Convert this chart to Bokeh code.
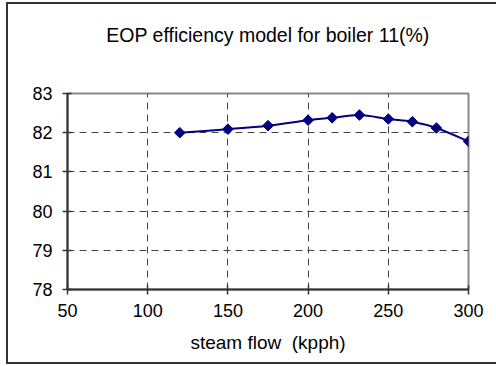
from bokeh.plotting import figure
from bokeh.models import FixedTicker, Range1d, LinearAxis, InlineStyleSheet
from bokeh.embed import file_html
from bokeh.resources import INLINE
import math

# data
steam_flow = [120, 150, 175, 200, 215, 232, 250, 265, 280, 300]
efficiency = [82.00, 82.09, 82.18, 82.32, 82.38, 82.45, 82.35, 82.28, 82.12, 81.78]
x_ticks = [50, 100, 150, 200, 250, 300]
y_ticks = [78, 79, 80, 81, 82, 83]
title_text = "EOP efficiency model for boiler 11(%)"
x_label = "steam flow\u00a0 (kpph)"

FONT = "Liberation Sans"
NAVY = "#000080"
EDGE = "#333333"

p = figure(width=496, height=364, output_backend="svg", toolbar_location=None,
           x_range=Range1d(50, 300), y_range=Range1d(78, 83),
           min_border_left=67, min_border_right=28, min_border_top=93,
           min_border_bottom=75, background_fill_color="white",
           border_fill_color=None)
# outer chart border: left, top and bottom edges (right edge is off-window)
border_css = (":host { box-shadow: inset 6px 0 0 0 #ffffff, inset 0 2px 0 0 #ffffff, "
              f"inset 8px 0 0 0 {EDGE}, inset 0 4px 0 0 {EDGE}, "
              f"inset 0 -2px 0 0 {EDGE}; }}")
p.stylesheets = [InlineStyleSheet(css=border_css)]

xax = p.below[0]
yax = p.left[0]

# chart title, set as the label of a bare axis above the plot area
title_axis = LinearAxis(ticker=FixedTicker(ticks=[]), axis_line_color=None,
                        major_tick_line_color=None, minor_tick_line_color=None,
                        major_tick_in=0, major_tick_out=0, minor_tick_in=0,
                        minor_tick_out=0, major_label_standoff=0,
                        axis_label=title_text, axis_label_standoff=48,
                        axis_label_text_font=FONT, axis_label_text_font_size="19.5px",
                        axis_label_text_font_style="normal",
                        axis_label_text_color="#000000")
p.add_layout(title_axis, "above")

p.outline_line_color = "#888888"
p.outline_line_width = 2

for ax in (xax, yax):
    ax.axis_line_color = EDGE
    ax.axis_line_width = 2
    ax.major_tick_line_color = EDGE
    ax.major_tick_line_width = 1.5
    ax.major_tick_in = 4
    ax.major_tick_out = 5
    ax.minor_tick_line_color = None
    ax.major_label_text_font = FONT
    ax.major_label_text_font_size = "18px"
    ax.major_label_text_color = "#000000"

xax.ticker = FixedTicker(ticks=x_ticks)
yax.ticker = FixedTicker(ticks=y_ticks)
xax.major_label_standoff = 9
yax.major_label_standoff = 10
xax.axis_label = x_label
xax.axis_label_text_font = FONT
xax.axis_label_text_font_size = "19px"
xax.axis_label_text_font_style = "normal"
xax.axis_label_text_color = "#000000"
xax.axis_label_standoff = 12

for g in (p.xgrid[0], p.ygrid[0]):
    g.grid_line_color = "#444444"
    g.grid_line_width = 1
    g.grid_line_dash = "7 5"

# smoothed line (Catmull-Rom derived bezier segments through the data points)
n = len(steam_flow)
x0s, y0s, x1s, y1s, cx0s, cy0s, cx1s, cy1s = [], [], [], [], [], [], [], []
for i in range(n - 1):
    xa, ya = steam_flow[i], efficiency[i]
    xb, yb = steam_flow[i + 1], efficiency[i + 1]
    xp, yp = (steam_flow[i - 1], efficiency[i - 1]) if i > 0 else (xa, ya)
    xn, yn = (steam_flow[i + 2], efficiency[i + 2]) if i + 2 < n else (xb, yb)
    x0s.append(xa); y0s.append(ya); x1s.append(xb); y1s.append(yb)
    cx0s.append(xa + (xb - xp) / 6); cy0s.append(ya + (yb - yp) / 6)
    cx1s.append(xb - (xn - xa) / 6); cy1s.append(yb - (yn - ya) / 6)
p.bezier(x0=x0s, y0=y0s, x1=x1s, y1=y1s, cx0=cx0s, cy0=cy0s, cx1=cx1s, cy1=cy1s,
         line_color=NAVY, line_width=2)

p.scatter(steam_flow, efficiency, marker="square", size=7.5, angle=math.pi / 4,
          fill_color=NAVY, line_color=NAVY)

open("out.html", "w").write(file_html(p, INLINE))
